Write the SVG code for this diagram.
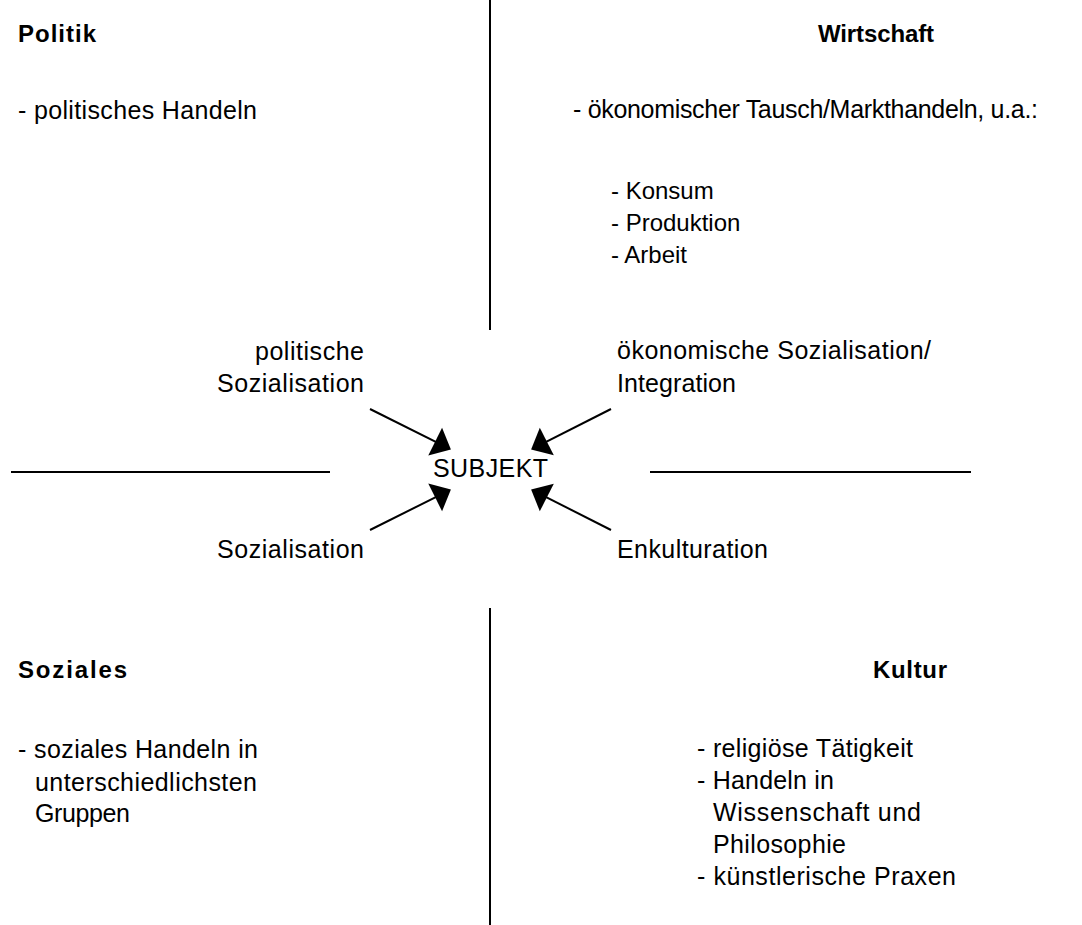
<svg xmlns="http://www.w3.org/2000/svg" width="1082" height="925" viewBox="0 0 1082 925">
  <style>
    text { font-family: "Liberation Sans", Arial, sans-serif; font-size: 25px; fill: #000; }
    .head { font-weight: bold; font-size: 24px; }
    .small { font-size: 24px; }
    .rule { stroke: #000; stroke-width: 2; fill: none; }
    .arrow { stroke: #000; stroke-width: 2; fill: none; marker-end: url(#head); }
  </style>
  <defs>
    <marker id="head" markerUnits="userSpaceOnUse" markerWidth="20" markerHeight="32" viewBox="0 -15 17 30" refX="8" refY="0" orient="auto">
      <path d="M0,-14.5 L16.5,0 L0,14.5 z" fill="#000"/>
    </marker>
  </defs>

  <rect width="1082" height="925" fill="#fff"/>

  <!-- quadrant dividers -->
  <g id="dividers">
    <line class="rule" x1="490" y1="0" x2="490" y2="330"/>
    <line class="rule" x1="490" y1="608" x2="490" y2="925"/>
    <line class="rule" x1="11" y1="472" x2="330" y2="472"/>
    <line class="rule" x1="650" y1="472" x2="971" y2="472"/>
  </g>

  <g id="politik">
    <text class="head" x="18" y="42" textLength="78" lengthAdjust="spacing">Politik</text>
    <text x="18" y="119" textLength="239" lengthAdjust="spacing">- politisches Handeln</text>
  </g>

  <g id="wirtschaft">
    <text class="head" x="818" y="42" textLength="116" lengthAdjust="spacing">Wirtschaft</text>
    <text x="573" y="118" textLength="465" lengthAdjust="spacing">- ökonomischer Tausch/Markthandeln, u.a.:</text>
    <text class="small" x="611" y="199">- Konsum</text>
    <text class="small" x="611" y="231">- Produktion</text>
    <text class="small" x="611" y="263">- Arbeit</text>
  </g>

  <g id="soziales">
    <text class="head" x="18" y="678" textLength="109" lengthAdjust="spacing">Soziales</text>
    <text x="18" y="758" textLength="240" lengthAdjust="spacing">- soziales Handeln in</text>
    <text x="35" y="791" textLength="222" lengthAdjust="spacing">unterschiedlichsten</text>
    <text x="35" y="822" textLength="95" lengthAdjust="spacing">Gruppen</text>
  </g>

  <g id="kultur">
    <text class="head" x="873" y="678" textLength="74" lengthAdjust="spacing">Kultur</text>
    <text x="697" y="757" textLength="216" lengthAdjust="spacing">- religiöse Tätigkeit</text>
    <text x="697" y="789" textLength="137" lengthAdjust="spacing">- Handeln in</text>
    <text x="713" y="821" textLength="208" lengthAdjust="spacing">Wissenschaft und</text>
    <text x="713" y="853" textLength="133" lengthAdjust="spacing">Philosophie</text>
    <text x="697" y="885" textLength="259" lengthAdjust="spacing">- künstlerische Praxen</text>
  </g>

  <g id="subjekt">
    <text x="433" y="477" textLength="115" lengthAdjust="spacing">SUBJEKT</text>
  </g>

  <g id="labels">
    <text x="255" y="360" textLength="109" lengthAdjust="spacing">politische</text>
    <text x="217" y="392" textLength="147" lengthAdjust="spacing">Sozialisation</text>
    <text x="617" y="359" textLength="314" lengthAdjust="spacing">ökonomische Sozialisation/</text>
    <text x="617" y="392" textLength="119" lengthAdjust="spacing">Integration</text>
    <text x="217" y="558" textLength="147" lengthAdjust="spacing">Sozialisation</text>
    <text x="617" y="558" textLength="151" lengthAdjust="spacing">Enkulturation</text>
  </g>

  <!-- arrows pointing at the subject -->
  <g id="connectors">
    <line class="arrow" x1="370" y1="409" x2="442.8" y2="445.4"/>
    <line class="arrow" x1="370" y1="530" x2="442.8" y2="493.6"/>
    <line class="arrow" x1="611" y1="409" x2="539.2" y2="445.4"/>
    <line class="arrow" x1="611" y1="530" x2="539.2" y2="493.6"/>
  </g>
</svg>
